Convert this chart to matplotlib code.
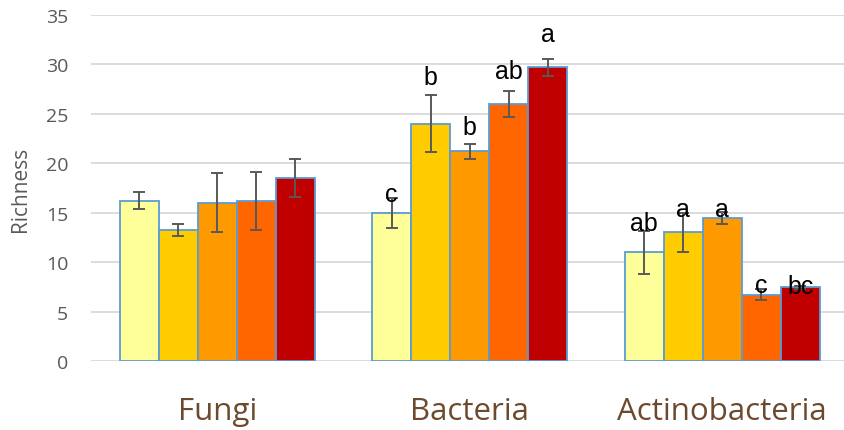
"""
Richness by treatment for Fungi / Bacteria / Actinobacteria
Grouped bars with error bars and significance letters, saved as out.png
"""

import matplotlib
import matplotlib.pyplot as plt
import numpy as np

matplotlib.use("Agg")

GROUPS = ["Fungi", "Bacteria", "Actinobacteria"]
COLORS = ["#FFFF99", "#FFCC00", "#FF9900", "#FF6600", "#C00000"]

# one list per treatment (bar colour), values across the three groups
MEANS = [
    [16.2, 15.0, 11.0],
    [13.25, 24.0, 13.0],
    [16.0, 21.2, 14.5],
    [16.2, 26.0, 6.7],
    [18.5, 29.7, 7.45],
]
ERRORS = [
    [0.85, 1.5, 2.2],
    [0.6, 2.9, 2.0],
    [3.0, 0.75, 0.6],
    [2.9, 1.3, 0.55],
    [1.9, 0.85, 0.15],
]

# significance letters (Fungi has none) and the height they sit at
LETTERS = [
    ["", "c", "ab"],
    ["", "b", "a"],
    ["", "b", "a"],
    ["", "ab", "c"],
    ["", "a", "bc"],
]
LETTER_Y = [
    [0, 16.9, 14.0],
    [0, 28.7, 15.4],
    [0, 23.7, 15.4],
    [0, 29.3, 7.7],
    [0, 33.1, 7.6],
]

YTICKS = list(range(0, 36, 5))

GRID = "#D9D9D9"
TICK = "#595959"
BROWN = "#6B4A2E"
EDGE = "#5B9BD5"


def main():
    fig = plt.figure(figsize=(8.44, 4.31), dpi=100, facecolor="white")
    ax = fig.add_axes([91 / 844, 69 / 431, 1 - 91 / 844, (362 - 16) / 431])

    x = np.arange(len(GROUPS))
    width = 0.1545
    for i, (col, vals, errs) in enumerate(zip(COLORS, MEANS, ERRORS)):
        pos = x + (i - 2) * width
        ax.bar(pos, vals, width=width, color=col, edgecolor=EDGE,
               linewidth=1.3, zorder=2)
        ax.errorbar(pos, vals, yerr=errs, fmt="none", ecolor=TICK,
                    elinewidth=1.4, capsize=4, capthick=1.4, zorder=3)
        for p, lab, ly in zip(pos, LETTERS[i], LETTER_Y[i]):
            if lab:
                ax.text(p, ly, lab, ha="center", va="center", fontsize=18,
                        family="Liberation Sans", color="black", zorder=4)

    ax.set_ylim(0, 35)
    ax.set_xlim(-0.5, 2.482)
    ax.set_yticks(YTICKS)
    ax.set_yticklabels([str(t) for t in YTICKS], fontsize=14,
                       family="Open Sans", color=TICK)
    ax.tick_params(axis="y", length=0, pad=16.5)
    ax.set_xticks(x)
    ax.set_xticklabels(GROUPS, fontsize=22.5, family="Open Sans", color=BROWN)
    ax.tick_params(axis="x", length=0, pad=25)
    ax.yaxis.grid(True, color=GRID, linewidth=1.3)
    ax.set_axisbelow(True)
    for spine in ax.spines.values():
        spine.set_visible(False)

    ax.set_ylabel("Richness", fontsize=15, family="Open Sans", color=TICK)
    ax.yaxis.set_label_coords(-60 / 753, 0.5)

    fig.savefig("out.png", dpi=100, facecolor="white")
    plt.close(fig)


if __name__ == "__main__":
    main()
